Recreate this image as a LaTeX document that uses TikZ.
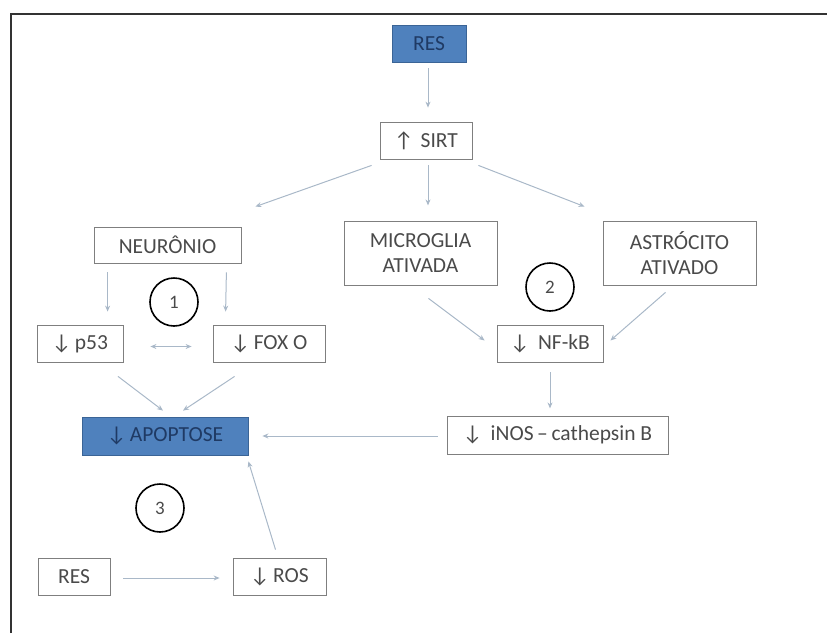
\documentclass[tikz,border=0pt]{standalone}
\usepackage{fontspec}
\setmainfont{Carlito}
\usetikzlibrary{arrows.meta,calc}
\definecolor{arrowc}{HTML}{A9B8C8}
\definecolor{boxc}{HTML}{7F7F7F}
\definecolor{txtc}{HTML}{4A4A4A}
\definecolor{bluef}{HTML}{4F81BD}
\definecolor{blued}{HTML}{3A6496}
\definecolor{navy}{HTML}{1F3A64}
\tikzset{
  box/.style={draw=boxc, line width=0.8pt, text=txtc, align=center, inner sep=0pt,
    font=\fontsize{21.5}{25}\selectfont},
  bluebox/.style={box, fill=bluef, draw=blued, text=navy},
  num/.style={circle, draw=black, line width=1.6pt, minimum size=48pt, inner sep=0pt,
    text=txtc, font=\fontsize{19}{22}\selectfont},
  arr/.style={draw=arrowc, line width=1pt, -{Stealth[length=6pt,width=5pt]}},
  darr/.style={draw=arrowc, line width=1pt, {Stealth[length=6pt,width=5pt]}-{Stealth[length=6pt,width=5pt]}},
}
\begin{document}
\begin{tikzpicture}[x=1pt,y=-1pt]
\useasboundingbox (0,0) rectangle (827,633);
\draw[line width=2.4pt, color=black!80] (11,633) -- (11,14) -- (827,14);

\node[bluebox, minimum width=74pt, minimum height=37pt] (res1) at (429,43.5) {RES};
\node[box, minimum width=92pt, minimum height=37pt] (sirt) at (426,140.5) {↑\,\,SIRT};
\node[box, minimum width=147pt, minimum height=36pt] (neur) at (167.5,245) {NEURÔNIO};
\node[box, minimum width=153pt, minimum height=64pt] (micro) at (420.5,253) {MICROGLIA\\ATIVADA};
\node[box, minimum width=153pt, minimum height=64pt] (astro) at (679.5,253) {ASTRÓCITO\\ATIVADO};
\node[box, minimum width=86pt, minimum height=37pt] (p53) at (80,343.5) {↓\,p53};
\node[box, minimum width=112pt, minimum height=37pt] (fox) at (269,343.5) {↓\,FOX O};
\node[box, minimum width=106pt, minimum height=37pt] (nfkb) at (550,343.5) {↓\, NF-kB};
\node[bluebox, minimum width=166pt, minimum height=38pt] (apop) at (165,436) {↓\,APOPTOSE};
\node[box, minimum width=221pt, minimum height=38pt] (inos) at (557.5,435) {↓\, iNOS\,–\,cathepsin B};
\node[box, minimum width=72pt, minimum height=37pt] (res2) at (74,576.5) {RES};
\node[box, minimum width=93pt, minimum height=37pt] (ros) at (279.5,576.5) {↓\,ROS};

\node[num] (c1) at (174,302) {1};
\node[num] (c2) at (550,287) {2};
\node[num] (c3) at (160,508) {3};

\draw[arr] ($(res1.south)+(-1,6)$) -- ($(sirt.north)+(2,-14)$);
\draw[arr] ($(sirt.south west)+(-8,6)$) -- ($(neur.north east)+(14,-20)$);
\draw[arr] ($(sirt.south)+(2,6)$) -- ($(sirt.south)+(2,46)$);
\draw[arr] ($(sirt.south east)+(6,6)$) -- ($(astro.north west)+(-18,-14)$);
\draw[arr] ($(neur.south west)+(14,9)$) -- ($(p53.north west)+(71,-13)$);
\draw[arr] ($(neur.south east)+(-15,9)$) -- ($(fox.north west)+(13,-13)$);
\draw[darr] ($(p53.east)+(27,3)$) -- ($(fox.west)+(-21,3)$);
\draw[arr] ($(micro.south)+(8,13)$) -- ($(nfkb.west)+(-12,-3)$);
\draw[arr] ($(astro.south)+(-14,7)$) -- ($(nfkb.east)+(7,-3)$);
\draw[arr] ($(p53.south)+(38,14)$) -- ($(apop.north)+(-2,-6)$);
\draw[arr] ($(fox.south west)+(22,14)$) -- ($(apop.north)+(18,-6)$);
\draw[arr] ($(nfkb.south)+(0,10)$) -- ($(nfkb.south)+(0,46)$);
\draw[arr] ($(inos.west)+(-9,1)$) -- ($(apop.east)+(14,0)$);
\draw[arr] ($(res2.east)+(13,1.5)$) -- ($(ros.west)+(-13,1.5)$);
\draw[arr] ($(ros.north)+(-4,-8)$) -- ($(apop.south east)+(0,6)$);
\end{tikzpicture}
\end{document}
